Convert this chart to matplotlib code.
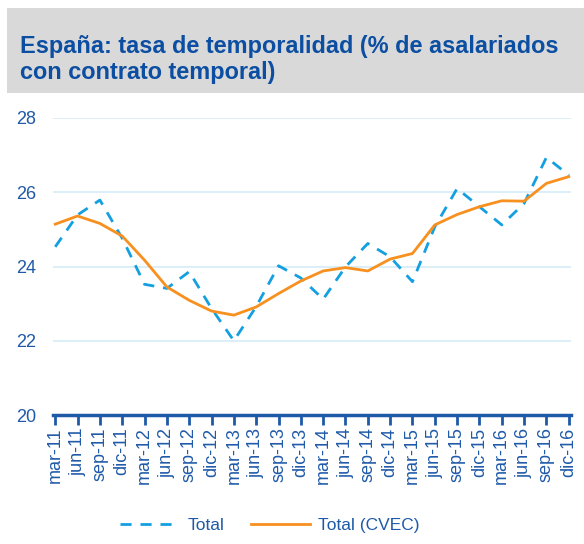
import matplotlib
matplotlib.use("Agg")
import matplotlib.pyplot as plt
from matplotlib.patches import Rectangle
from matplotlib.lines import Line2D

categories = ["mar-11", "jun-11", "sep-11", "dic-11", "mar-12", "jun-12", "sep-12", "dic-12",
              "mar-13", "jun-13", "sep-13", "dic-13", "mar-14", "jun-14", "sep-14", "dic-14",
              "mar-15", "jun-15", "sep-15", "dic-15", "mar-16", "jun-16", "sep-16", "dic-16"]
total = [24.53, 25.39, 25.79, 24.76, 23.52, 23.41, 23.86, 22.87,
         22.00, 22.92, 24.02, 23.69, 23.12, 23.99, 24.62, 24.26,
         23.59, 25.07, 26.10, 25.61, 25.12, 25.70, 26.94, 26.46]
total_cvec = [25.14, 25.36, 25.16, 24.82, 24.17, 23.45, 23.09, 22.80,
              22.69, 22.91, 23.27, 23.61, 23.88, 23.97, 23.88, 24.20,
              24.35, 25.12, 25.40, 25.61, 25.77, 25.76, 26.24, 26.42]
yticks = [20, 22, 24, 26, 28]

BLUE_TXT = "#1f5aa8"
DASH = "#14a0e0"
ORANGE = "#f7901e"
GRID = "#d6ecf8"

plt.rcParams['font.family'] = ['Liberation Sans', 'DejaVu Sans']

fig = plt.figure(figsize=(5.84, 5.44), dpi=100)
W, H = 584, 544

# title box
fig.patches.append(Rectangle((7 / W, 1 - 93 / H), (584 - 7) / W, 85 / H,
                             transform=fig.transFigure, facecolor="#d9d9d9",
                             edgecolor="none", zorder=0))
fig.text(20 / W, 1 - 47 / H, "España: tasa de temporalidad (% de asalariados",
         fontsize=16.9, fontweight="bold", color="#0b4ea2", va="center", ha="left")
fig.text(20 / W, 1 - 73 / H, "con contrato temporal)",
         fontsize=16.9, fontweight="bold", color="#0b4ea2", va="center", ha="left")

ax = fig.add_axes([53 / W, 1 - 415 / H, (571 - 53) / W, (415 - 118) / H])
x = list(range(len(categories)))
ax.plot(x, total, color=DASH, lw=2.0, dashes=(4, 3.2), label="Total", zorder=3)
ax.plot(x, total_cvec, color=ORANGE, lw=2.0, label="Total (CVEC)", zorder=4)

ax.set_ylim(20, 28)
ax.set_yticks(yticks)
ax.set_yticklabels([str(v) for v in yticks], color=BLUE_TXT, fontsize=13)
ax.tick_params(axis="y", length=0, pad=12)
ax.set_xticks(x)
ax.set_xticklabels(categories, rotation=90, color=BLUE_TXT, fontsize=13)
ax.tick_params(axis="x", direction="out", length=7, width=2, color="#1f5aa8", pad=2)
for v in yticks[1:]:
    ax.axhline(v, color=GRID, lw=1.2, zorder=1)
for s in ["top", "right", "left"]:
    ax.spines[s].set_visible(False)
ax.spines["bottom"].set_color("#1f5aa8")
ax.spines["bottom"].set_linewidth(2.5)
ax.set_xlim(-0.1, len(categories) - 1 + 0.1)

handles = [Line2D([0], [0], color=DASH, lw=2.0, dashes=(4, 3.2)),
           Line2D([0], [0], color=ORANGE, lw=2.0)]
fig.legend(handles, ["Total", "Total (CVEC)"], loc="center", bbox_to_anchor=(270 / W, 1 - 525 / H),
           ncol=2, frameon=False, fontsize=12.5, labelcolor=BLUE_TXT,
           handlelength=3.4, columnspacing=1.5, handletextpad=0.5)

fig.savefig("out.png", dpi=100)
